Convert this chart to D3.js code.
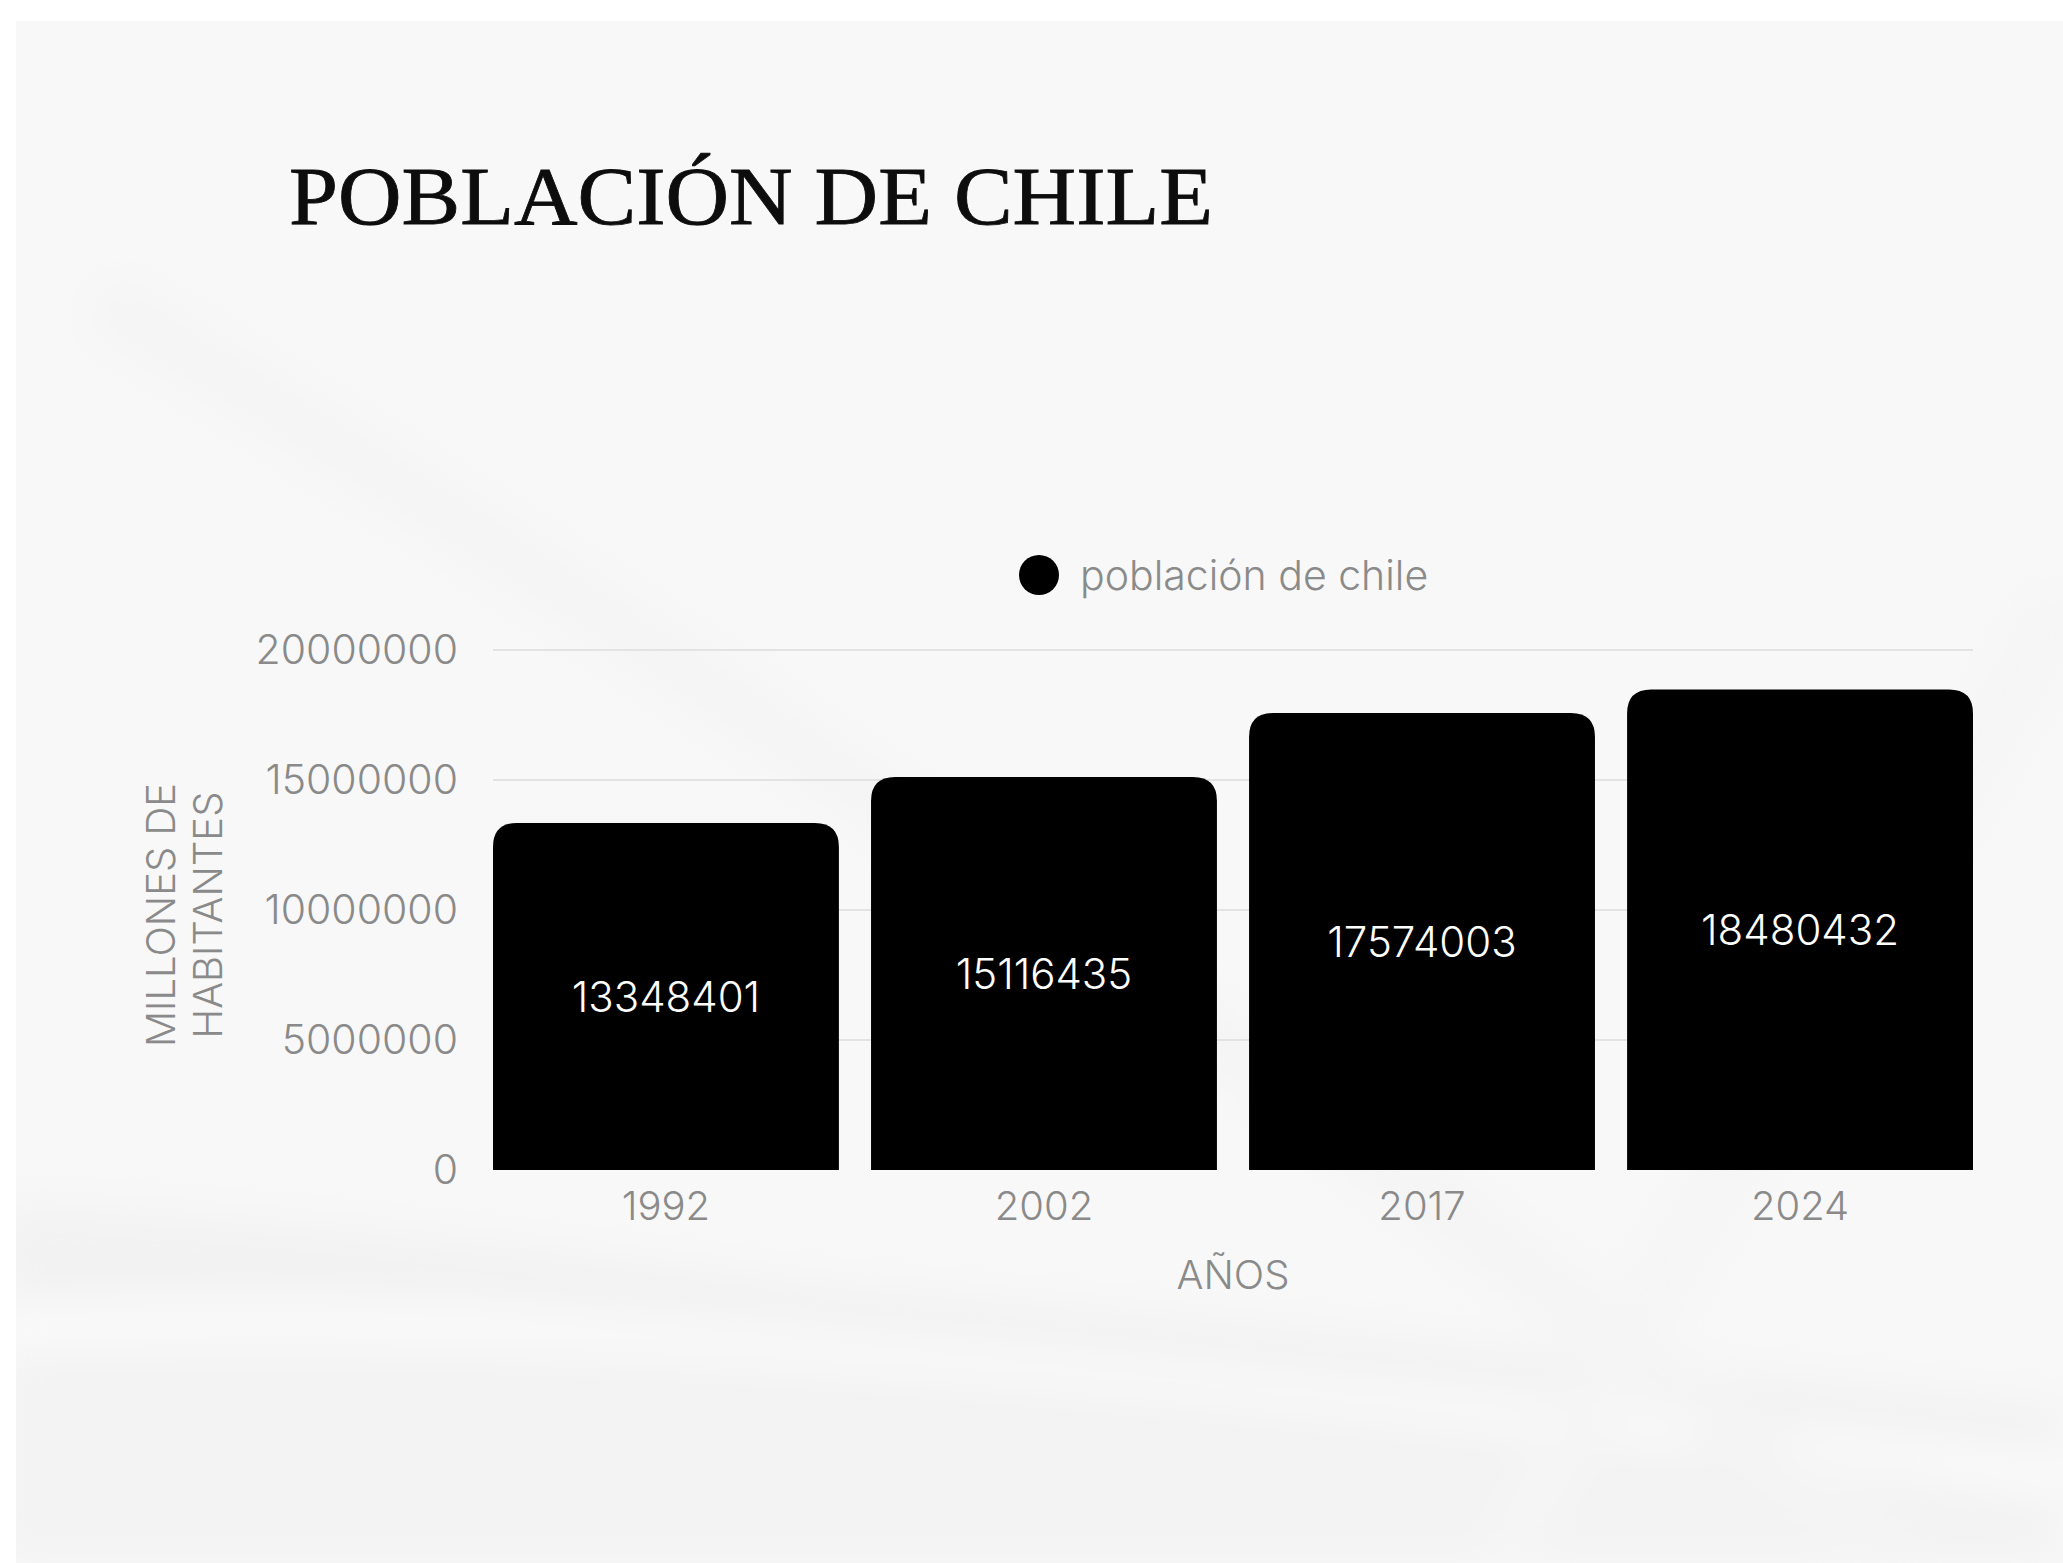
<!DOCTYPE html>
<html>
<head>
<meta charset="utf-8">
<script src="https://cdn.jsdelivr.net/npm/d3@7"></script>
<style>
  html, body { margin: 0; padding: 0; background: #ffffff; }
  svg { display: block; }
</style>
</head>
<body>
<svg id="chart" width="2063" height="1563"></svg>
<script>
// ---- data ----
const years = ["1992", "2002", "2017", "2024"];
const population = [13348401, 15116435, 17574003, 18480432];
const yTicks = [0, 5000000, 10000000, 15000000, 20000000];
const titleText = "POBLACIÓN DE CHILE";
const seriesName = "población de chile";
const xTitle = "AÑOS";
const yTitleLines = ["MILLONES DE", "HABITANTES"];

const svg = d3.select("#chart");
const W = 2063, H = 1563;

// ---- background ----
const defs = svg.append("defs");
const blur = defs.append("filter").attr("id", "blur").attr("x", "-20%").attr("y", "-20%").attr("width", "140%").attr("height", "140%");
blur.append("feGaussianBlur").attr("stdDeviation", 20);
const clip = defs.append("clipPath").attr("id", "bgclip");
clip.append("rect").attr("x", 16).attr("y", 21).attr("width", W - 16).attr("height", H - 21);

svg.append("rect").attr("x", 16).attr("y", 21).attr("width", W - 16).attr("height", H - 21).attr("fill", "#f8f8f8");
const waves = svg.append("g").attr("clip-path", "url(#bgclip)").attr("filter", "url(#blur)");
// subtle swooshes
waves.append("path").attr("d", "M0,1200 C500,1220 1200,1330 2063,1500 L2063,1563 L0,1563 Z").attr("fill", "#f3f3f3");
waves.append("path").attr("d", "M0,1330 C600,1300 1300,1380 2063,1470").attr("fill", "none").attr("stroke", "#fbfbfb").attr("stroke-width", 40);
waves.append("path").attr("d", "M0,1260 C500,1270 1200,1340 2063,1430").attr("fill", "none").attr("stroke", "#f2f2f2").attr("stroke-width", 50);
waves.append("path").attr("d", "M100,300 C600,600 1200,1000 1900,1563").attr("fill", "none").attr("stroke", "#f4f4f4").attr("stroke-width", 60);
waves.append("path").attr("d", "M2063,600 C1900,900 1700,1200 1500,1563").attr("fill", "none").attr("stroke", "#f5f5f5").attr("stroke-width", 60);

// ---- scales ----
const x = d3.scaleBand().domain(years).range([493, 1973]).paddingInner(0.085).paddingOuter(0);
const y = d3.scaleLinear().domain([0, 20000000]).range([1170, 650]);

// ---- gridlines ----
svg.append("g").selectAll("line").data(yTicks.filter(d => d > 0)).join("line")
  .attr("x1", 493).attr("x2", 1973)
  .attr("y1", d => y(d)).attr("y2", d => y(d))
  .attr("stroke", "#e3e3e3").attr("stroke-width", 2);

// ---- bars ----
const r = 24;
function barPath(x0, w, yTop, yBot) {
  const rr = Math.min(r, w / 2, (yBot - yTop));
  return `M${x0},${yBot} L${x0},${yTop + rr} Q${x0},${yTop} ${x0 + rr},${yTop} L${x0 + w - rr},${yTop} Q${x0 + w},${yTop} ${x0 + w},${yTop + rr} L${x0 + w},${yBot} Z`;
}
const data = years.map((yr, i) => ({ year: yr, value: population[i] }));
svg.append("g").selectAll("path").data(data).join("path")
  .attr("d", d => barPath(x(d.year), x.bandwidth(), y(d.value), y(0)))
  .attr("fill", "#000000");

// value labels
svg.append("g").selectAll("text").data(data).join("text")
  .attr("x", d => x(d.year) + x.bandwidth() / 2)
  .attr("y", d => (y(d.value) + y(0)) / 2)
  .attr("text-anchor", "middle")
  .attr("dominant-baseline", "central")
  .attr("font-family", "Inter, Roboto, sans-serif")
  .attr("font-weight", 300)
  .attr("font-size", 42)
  .attr("fill", "#ffffff")
  .text(d => d.value);

// ---- axes ----
const yAxis = svg.append("g").attr("transform", "translate(493,0)")
  .call(d3.axisLeft(y).tickValues(yTicks).tickFormat(d3.format("d")).tickSize(0).tickPadding(35));
yAxis.select(".domain").remove();
yAxis.selectAll("text")
  .attr("font-family", "Inter, Roboto, sans-serif").attr("font-weight", 300)
  .attr("font-size", 41).attr("fill", "#8a8a8a");

const xAxis = svg.append("g").attr("transform", "translate(0,1170)")
  .call(d3.axisBottom(x).tickSize(0).tickPadding(22));
xAxis.select(".domain").remove();
xAxis.selectAll("text")
  .attr("font-family", "Inter, Roboto, sans-serif").attr("font-weight", 300)
  .attr("font-size", 40).attr("fill", "#8a8a8a");

// axis titles
svg.append("text")
  .attr("x", (493 + 1973) / 2).attr("y", 1274)
  .attr("text-anchor", "middle").attr("dominant-baseline", "central")
  .attr("font-family", "Inter, Roboto, sans-serif").attr("font-weight", 300)
  .attr("font-size", 40).attr("fill", "#8a8a8a")
  .text(xTitle);

const yt = svg.append("g");
yTitleLines.forEach((line, i) => {
  yt.append("text")
    .attr("transform", `translate(${160 + i * 47},915) rotate(-90)`)
    .attr("text-anchor", "middle").attr("dominant-baseline", "central")
    .attr("font-family", "Inter, Roboto, sans-serif").attr("font-weight", 300)
    .attr("font-size", 40).attr("fill", "#8a8a8a")
    .text(line);
});

// ---- legend ----
svg.append("circle").attr("cx", 1039).attr("cy", 575).attr("r", 20).attr("fill", "#000");
svg.append("text")
  .attr("x", 1080).attr("y", 575)
  .attr("dominant-baseline", "central")
  .attr("font-family", "Inter, Roboto, sans-serif").attr("font-weight", 300)
  .attr("font-size", 41).attr("fill", "#8a8a8a")
  .text(seriesName);

// ---- title ----
svg.append("text")
  .attr("x", 289).attr("y", 224)
  .attr("font-family", "'Liberation Serif', 'DejaVu Serif', serif")
  .attr("font-size", 82)
  .attr("fill", "#0d0d0d")
  .attr("stroke", "#0d0d0d").attr("stroke-width", 0.8)
  .attr("textLength", 924).attr("lengthAdjust", "spacingAndGlyphs")
  .text(titleText);
</script>
</body>
</html>
